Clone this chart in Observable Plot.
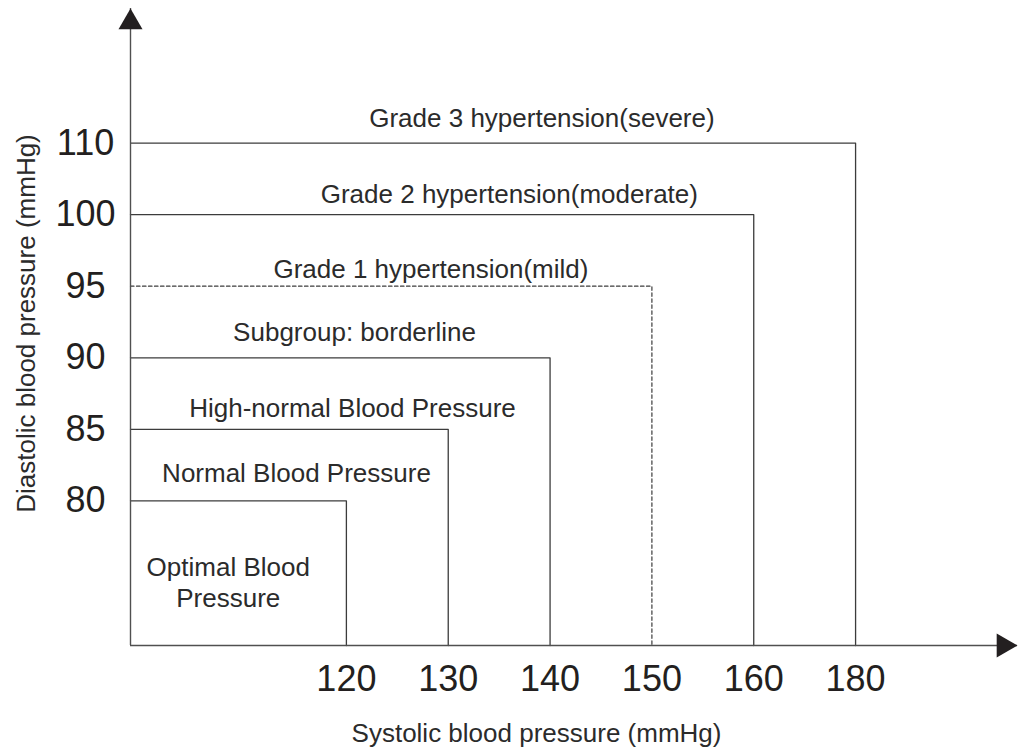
<!DOCTYPE html>
<html>
<head>
<meta charset="utf-8">
<script src="https://cdn.jsdelivr.net/npm/d3@7"></script>
<script src="https://cdn.jsdelivr.net/npm/@observablehq/plot@0.6"></script>
<style>
  html, body { margin: 0; padding: 0; background: #fff; }
</style>
</head>
<body>
<div id="chart"></div>
<script>
// ---- data ----
const systolic = [120, 130, 140, 150, 160, 180];          // x tick labels (mmHg)
const diastolic = [80, 85, 90, 95, 100, 110];              // y tick labels (mmHg)
const categories = [
  "Optimal Blood\nPressure",
  "Normal Blood Pressure",
  "High-normal Blood Pressure",
  "Subgroup: borderline",
  "Grade 1 hypertension(mild)",
  "Grade 2 hypertension(moderate)",
  "Grade 3 hypertension(severe)"
];
// boxes: upper-right corner (systolic, diastolic) for each boundary
const boxSys = [120, 130, 140, 150, 160, 180];
const boxDia = [80, 85, 90, 95, 100, 110];
const boxDashed = [false, false, false, true, false, false];
// label anchor (in tick-index units)
const labelX = [-1.16, -0.49, 0.06, 0.08, 0.83, 1.60, 1.92];
const labelY = [-1.13, 0.40, 1.31, 2.38, 3.25, 4.30, 5.37];

// ---- layout helpers ----
const xDomain = [-2.12, 6.59];
const yDomain = [-2.02, 6.88];
const xi = v => systolic.indexOf(v);
const yi = v => diastolic.indexOf(v);

const boxPts = boxSys.flatMap((s, i) => [
  {box: i, dashed: boxDashed[i], x: xDomain[0], y: yi(boxDia[i])},
  {box: i, dashed: boxDashed[i], x: xi(s), y: yi(boxDia[i])},
  {box: i, dashed: boxDashed[i], x: xi(s), y: yDomain[0]}
]);
const labels = categories.map((t, i) => ({text: t, x: labelX[i], y: labelY[i]}));

const upTri = {draw(ctx, size) {
  const h = Math.sqrt(size / (3 * Math.sqrt(3)));
  ctx.moveTo(0, -2 * h); ctx.lineTo(Math.sqrt(3) * h, h); ctx.lineTo(-Math.sqrt(3) * h, h); ctx.closePath();
}};
const rightTri = {draw(ctx, size) {
  const h = Math.sqrt(size / (3 * Math.sqrt(3)));
  ctx.moveTo(2 * h, 0); ctx.lineTo(-h, Math.sqrt(3) * h); ctx.lineTo(-h, -Math.sqrt(3) * h); ctx.closePath();
}};

const axisColor = "#505050";
const lineColor = "#3c3c3c";
const textColor = "#2b2b2b";
const tickColor = "#231f20";

const chart = Plot.plot({
  width: 1018,
  height: 749,
  marginLeft: 130,
  marginRight: 1,
  marginTop: 8,
  marginBottom: 104,
  x: {type: "linear", domain: xDomain, axis: null},
  y: {type: "linear", domain: yDomain, axis: null},
  style: {fontFamily: "'Liberation Sans', Arial, Helvetica, sans-serif", background: "#fff", overflow: "visible"},
  marks: [
    // boxes
    Plot.line(boxPts.filter(d => !d.dashed), {x: "x", y: "y", z: "box", stroke: lineColor, strokeWidth: 1.3}),
    Plot.line(boxPts.filter(d => d.dashed), {x: "x", y: "y", z: "box", stroke: lineColor, strokeWidth: 1.2, strokeDasharray: "3.5,2.5"}),
    // axes lines
    Plot.ruleX([xDomain[0]], {y1: yDomain[0], y2: yDomain[1], stroke: axisColor, strokeWidth: 1.4}),
    Plot.ruleY([yDomain[0]], {x1: xDomain[0], x2: xDomain[1], stroke: axisColor, strokeWidth: 1.4}),
    // arrow heads
    Plot.dot([0], {x: () => xDomain[0], y: () => yDomain[1], dy: 13.86, symbol: upTri, r: 8.91, fill: tickColor, stroke: "none"}),
    Plot.dot([0], {x: () => xDomain[1], y: () => yDomain[0], dx: -13.86, symbol: rightTri, r: 8.91, fill: tickColor, stroke: "none"}),
    // tick labels
    Plot.text(systolic, {x: (d, i) => i, frameAnchor: "bottom", dy: 34, text: d => String(d), fontSize: 36, fill: tickColor, textAnchor: "middle", lineAnchor: "middle"}),
    Plot.text(diastolic, {y: (d, i) => i, frameAnchor: "left", dx: -45, text: d => String(d), fontSize: 36, fill: tickColor, textAnchor: "middle", lineAnchor: "middle"}),
    // category labels
    Plot.text(labels, {x: "x", y: "y", text: "text", fontSize: 26, fill: textColor, textAnchor: "middle", lineAnchor: "middle", lineHeight: 1.2}),
    // axis titles
    Plot.text(["Systolic blood pressure (mmHg)"], {frameAnchor: "bottom", dx: -37.5, dy: 88, fontSize: 26, fill: textColor, textAnchor: "middle", lineAnchor: "middle"}),
    Plot.text(["Diastolic blood pressure (mmHg)"], {frameAnchor: "left", dx: -104, dy: -3.5, rotate: -90, fontSize: 26, fill: textColor, textAnchor: "middle", lineAnchor: "middle"})
  ]
});
document.getElementById("chart").appendChild(chart);
</script>
</body>
</html>
